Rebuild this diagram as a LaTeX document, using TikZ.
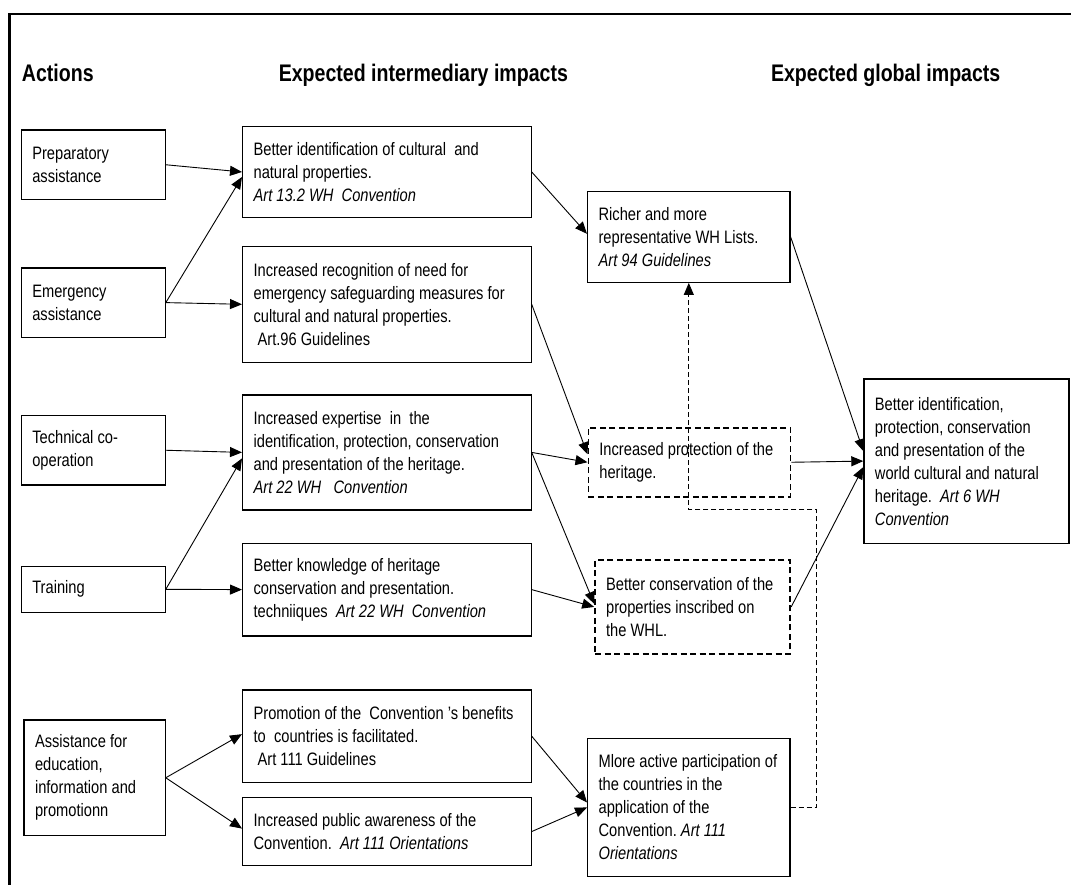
\documentclass[tikz,border=0pt]{standalone}
\usepackage{fontspec}
\setmainfont{Liberation Sans}[FakeStretch=0.815]
\usetikzlibrary{arrows.meta,calc}
\hyphenpenalty=10000
\exhyphenpenalty=10000
\begin{document}
\begin{tikzpicture}[x=1pt,y=-1pt,
  box/.style={draw, line width=1.2pt, anchor=north west, inner xsep=11pt, inner ysep=0pt, align=left, font=\fontsize{18}{23}\selectfont, execute at begin node={\spaceskip=4.1pt\relax\xspaceskip=4.1pt\relax}},
  dbox/.style={box, line width=1.8pt, dash pattern=on 6pt off 3.5pt},
  arr/.style={line width=0.9pt, -{Triangle[length=12pt,width=10pt]}},
  darr/.style={line width=0.9pt, dash pattern=on 5pt off 3pt, -{Triangle[length=12pt,width=10pt]}},
  head/.style={anchor=base west, inner sep=0pt, font=\fontsize{24}{28}\selectfont\bfseries},
  c1/.style={box, text width=121.9pt, minimum width=143.9pt},
  c2/.style={box, text width=266.5pt, minimum width=288.5pt},
  c3/.style={box, text width=180.4pt, minimum width=202.4pt}]
\useasboundingbox (0,0) rectangle (1071,884);
\draw[line width=2.7pt] (9.6,900) -- (9.6,14) -- (1090,14);

\node[head] (h1) at (21.7,81) {Actions};
\node[head] (h2) at (278.6,81) {Expected intermediary impacts};
\node[head] (h3) at (770.8,81) {Expected global impacts};

% column 1
\node[c1, minimum height=69.7pt] (prep) at (20.7,129.3) {Preparatory\\assistance};
\node[c1, minimum height=69.4pt] (emer) at (20.7,267.3) {Emergency\\assistance};
\node[c1, minimum height=69.3pt] (tech) at (20.7,415) {Technical co-\\operation};
\node[c1, minimum height=46pt] (train) at (20.7,565.7) {Training};
\node[box, text width=119.2pt, minimum width=141.2pt, minimum height=115.7pt] (assist) at (23.4,719.3) {Assistance for\\education,\\information and\\promotionn};

% column 2
\node[c2, minimum height=90.7pt] (bid) at (242,126) {Better identification of cultural\ \ and\\natural properties.\\\textit{Art 13.2 WH\ \ Convention}};
\node[c2, minimum height=116pt] (rec) at (242,245.7) {Increased recognition of need for\\emergency safeguarding measures for\\cultural and natural properties.\\\hspace*{4pt}Art.96 Guidelines};
\node[c2, minimum height=115pt] (exp) at (242,394.3) {Increased expertise\ \ in\ \ the\\identification, protection, conservation\\and presentation of the heritage.\\\textit{Art 22 WH\ \ \ Convention}};
\node[c2, minimum height=92.6pt] (know) at (242,542.7) {Better knowledge of heritage\\conservation and presentation.\\techniiques\ \ \textit{Art 22 WH\ \ Convention}};
\node[c2, minimum height=92.5pt] (promo) at (242,689.3) {\mbox{Promotion of the\ \ Convention ’s benefits}\\to\ \ countries is facilitated.\\\hspace*{4pt}Art 111 Guidelines};
\node[c2, minimum height=68.5pt] (aware) at (242,796.7) {Increased public awareness of the\\Convention.\ \ \textit{Art 111 Orientations}};

% column 3
\node[c3, minimum height=91pt] (richer) at (587,190.7) {Richer and more\\representative WH Lists.\\\textit{Art 94 Guidelines}};
\node[dbox, text width=180pt, minimum width=202pt, minimum height=69.3pt] (prot) at (587.5,426.7) {Increased protection of the\\heritage.};
\node[dbox, text width=173.2pt, minimum width=195.2pt, minimum height=93.4pt] (cons) at (594.2,559.3) {Better conservation of the\\properties inscribed on\\the WHL.};
\node[c3, minimum height=138.3pt] (part) at (587,737.7) {\mbox{Mlore active participation of}\\the countries in the\\application of the\\Convention. \textit{Art 111}\\\textit{Orientations}};

% global
\node[box, text width=183pt, minimum width=205pt, minimum height=164.4pt] (glob) at (863.3,378.3) {Better identification,\\protection, conservation\\and presentation of the\\world cultural and natural\\heritage.\ \ \textit{Art 6 WH}\\\textit{Convention}};

% connectors
\draw[arr] (prep.east) -- (bid.west);
\draw[arr] (emer.east) -- ([yshift=-5pt]bid.west);
\draw[arr] (emer.east) -- (rec.west);
\draw[arr] (tech.east) -- (exp.west);
\draw[arr] (train.east) -- ([yshift=-6pt]exp.west);
\draw[arr] (train.east) -- (know.west);
\draw[arr] (assist.east) -- ([yshift=2pt]promo.west);
\draw[arr] (assist.east) -- ([yshift=3pt]aware.west);
\draw[arr] (bid.east) -- ([yshift=3pt]richer.west);
\draw[arr] (rec.east) -- ([yshift=8pt]prot.west);
\draw[arr] (exp.east) -- (prot.west);
\draw[arr] (exp.east) -- ([yshift=3pt]cons.west);
\draw[arr] (know.east) -- (cons.west);
\draw[arr] (promo.east) -- ([yshift=5pt]part.west);
\draw[arr] (aware.east) -- (part.west);
\draw[arr] (richer.east) -- ([yshift=10pt]glob.west);
\draw[arr] (prot.east) -- (glob.west);
\draw[arr] (cons.east) -- ([yshift=-6pt]glob.west);
\coordinate (dj) at (816.4,509.3);
\draw[darr] (part.east) -| (dj) -| (richer.south);
\end{tikzpicture}
\end{document}
